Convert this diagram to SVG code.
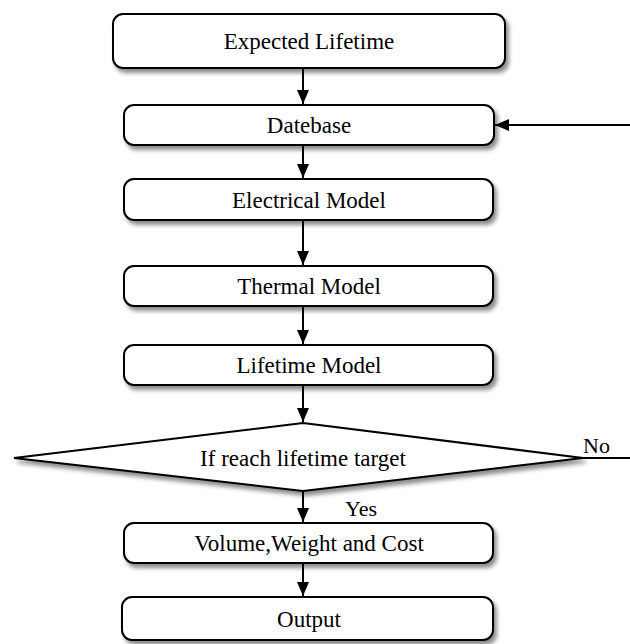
<svg xmlns="http://www.w3.org/2000/svg" width="630" height="644" viewBox="0 0 630 644">
<style>
.box{fill:#fff;stroke:#000;stroke-width:2;filter:url(#sh)}
.lbl{font-family:"Liberation Serif","Times New Roman",serif;font-size:23px;fill:#000;text-anchor:middle}
.tag{font-family:"Liberation Serif","Times New Roman",serif;font-size:22px;fill:#000}
.ln{stroke:#000;stroke-width:2;fill:none}
</style>
<defs>
<filter id="sh" x="-10%" y="-20%" width="125%" height="160%">
<feDropShadow dx="3" dy="4" stdDeviation="2" flood-color="#000" flood-opacity="0.45"/>
</filter>
<marker id="ah" viewBox="0 0 14 12" refX="14" refY="6" markerWidth="7" markerHeight="6" orient="auto" markerUnits="strokeWidth">
<path d="M0,0 L14,6 L0,12 z" fill="#000"/>
</marker>
</defs>
<g id="connectors">
<line class="ln" x1="303" y1="69" x2="303" y2="104" marker-end="url(#ah)"/>
<line class="ln" x1="303" y1="146" x2="303" y2="178" marker-end="url(#ah)"/>
<line class="ln" x1="303" y1="221" x2="303" y2="265" marker-end="url(#ah)"/>
<line class="ln" x1="303" y1="307" x2="303" y2="344" marker-end="url(#ah)"/>
<line class="ln" x1="303" y1="386" x2="303" y2="422" marker-end="url(#ah)"/>
<line class="ln" x1="303" y1="492" x2="303" y2="522" marker-end="url(#ah)"/>
<line class="ln" x1="303" y1="564" x2="303" y2="596" marker-end="url(#ah)"/>
<line class="ln" x1="583" y1="458" x2="632" y2="458"/>
<line class="ln" x1="632" y1="125" x2="495" y2="125" marker-end="url(#ah)"/>
<text class="tag" x="583" y="453">No</text>
<text class="tag" x="345" y="516">Yes</text>
</g>
<g id="expected-lifetime">
<rect class="box" x="113" y="14" width="392" height="54" rx="10"/>
<text class="lbl" x="309" y="49">Expected Lifetime</text>
</g>
<g id="datebase">
<rect class="box" x="124" y="105" width="370" height="40" rx="10"/>
<text class="lbl" x="309" y="133">Datebase</text>
</g>
<g id="electrical-model">
<rect class="box" x="124" y="179" width="369" height="41" rx="10"/>
<text class="lbl" x="309" y="208">Electrical Model</text>
</g>
<g id="thermal-model">
<rect class="box" x="124" y="266" width="369" height="40" rx="10"/>
<text class="lbl" x="309" y="294">Thermal Model</text>
</g>
<g id="lifetime-model">
<rect class="box" x="124" y="345" width="369" height="40" rx="10"/>
<text class="lbl" x="309" y="373">Lifetime Model</text>
</g>
<g id="decision">
<polygon class="box" points="14,458 303,423 583,458 303,491"/>
<text class="lbl" x="303" y="466">If reach lifetime target</text>
</g>
<g id="volume-weight-cost">
<rect class="box" x="124" y="523" width="369" height="40" rx="10"/>
<text class="lbl" x="309" y="551">Volume,Weight and Cost</text>
</g>
<g id="output">
<rect class="box" x="122" y="597" width="371" height="43" rx="10"/>
<text class="lbl" x="309" y="627">Output</text>
</g>
</svg>
